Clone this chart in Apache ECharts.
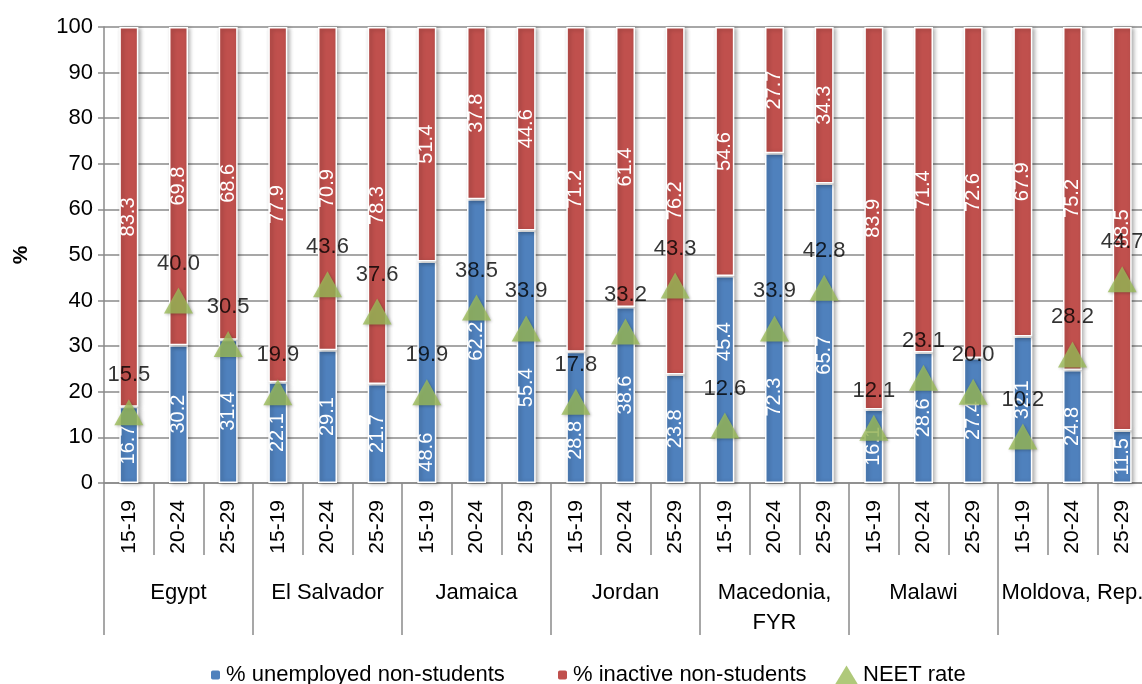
<!DOCTYPE html>
<html>
<head>
<meta charset="utf-8">
<script src="https://cdn.jsdelivr.net/npm/echarts@6/dist/echarts.min.js"></script>
<style>
  html, body { margin: 0; padding: 0; background: #fff; }
  #chart { width: 1142px; height: 684px; }
</style>
</head>
<body>
<div id="chart"></div>
<script>
// Youth NEET breakdown by country and age group
const countries = ['Egypt', 'El Salvador', 'Jamaica', 'Jordan', 'Macedonia,\nFYR', 'Malawi', 'Moldova, Rep.'];
const ageGroups = ['15-19', '20-24', '25-29'];
const unemployed = [16.7, 30.2, 31.4, 22.1, 29.1, 21.7, 48.6, 62.2, 55.4, 28.8, 38.6, 23.8, 45.4, 72.3, 65.7, 16.1, 28.6, 27.4, 32.1, 24.8, 11.5];
const inactive = [83.3, 69.8, 68.6, 77.9, 70.9, 78.3, 51.4, 37.8, 44.6, 71.2, 61.4, 76.2, 54.6, 27.7, 34.3, 83.9, 71.4, 72.6, 67.9, 75.2, 88.5];
const neetRate = [15.5, 40.0, 30.5, 19.9, 43.6, 37.6, 19.9, 38.5, 33.9, 17.8, 33.2, 43.3, 12.6, 33.9, 42.8, 12.1, 23.1, 20.0, 10.2, 28.2, 44.7];
const yTicks = [0, 10, 20, 30, 40, 50, 60, 70, 80, 90, 100];

// downward nudges (px) for some unemployed-bar labels so they clear the triangles
const unemployedLabelShift = { 6: 80, 8: 31, 9: 23, 12: -38, 13: 79, 14: 22, 18: -10 };

const ageLabels = [];
countries.forEach(() => ageGroups.forEach(a => ageLabels.push(a)));

const FONT = "'Liberation Sans', Arial, sans-serif";
const GRAY = '#8a8a8a';
const BLUE = '#4f81bd', RED = '#c0504d', GREEN = '#9bbb59';

const barLabel = {
  show: true, position: 'inside', rotate: 90, color: '#fff',
  fontFamily: FONT, fontSize: 20,
  formatter: p => p.value.toFixed(1)
};
const barStyle = color => ({
  color: color, borderColor: '#fff', borderWidth: 1.5,
  shadowBlur: 4, shadowColor: 'rgba(0,0,0,0.3)', shadowOffsetX: 2, shadowOffsetY: 1
});
const legendText = { fontFamily: FONT, fontSize: 22, color: '#000' };

// label offset is in the rotated frame: its x runs upward on screen
const unemployedData = unemployed.map((v, i) =>
  unemployedLabelShift[i] !== undefined
    ? { value: v, label: { offset: [-unemployedLabelShift[i], 0] } }
    : v
);

const chart = echarts.init(document.getElementById('chart'), null, { renderer: 'canvas' });
chart.setOption({
  animation: false,
  backgroundColor: '#fff',
  textStyle: { fontFamily: FONT },
  grid: { left: 104, top: 27, width: 1043, height: 456, containLabel: false, outerBoundsMode: 'none' },
  legend: [
    { data: ['% unemployed non-students'], left: 204, top: 659, itemWidth: 11, itemHeight: 11, itemGap: 8,
      textStyle: legendText },
    { data: ['% inactive non-students'], left: 551, top: 659, itemWidth: 11, itemHeight: 11, itemGap: 8,
      textStyle: legendText },
    { data: [{ name: 'NEET rate', icon: 'triangle' }], left: 830, top: 659, itemWidth: 23, itemHeight: 19, itemGap: 8,
      textStyle: legendText }
  ],
  xAxis: [
    {
      type: 'category', data: ageLabels, position: 'bottom', offset: 0,
      axisLine: { show: true, lineStyle: { color: GRAY, width: 1.5 } },
      axisTick: { show: true, interval: 0, length: 72, lineStyle: { color: GRAY, width: 1.5 } },
      axisLabel: { interval: 0, rotate: 90, margin: 17, color: '#000', fontFamily: FONT, fontSize: 21 },
      splitLine: { show: false }
    },
    {
      type: 'category', data: countries, position: 'bottom', offset: 0,
      axisLine: { show: false },
      axisTick: { show: true, interval: 0, length: 152, lineStyle: { color: GRAY, width: 1.5 } },
      axisLabel: { interval: 0, margin: 95, color: '#000', fontFamily: FONT, fontSize: 22, lineHeight: 30 },
      splitLine: { show: false }
    }
  ],
  yAxis: {
    type: 'value', min: yTicks[0], max: yTicks[yTicks.length - 1], interval: 10,
    name: '%', nameLocation: 'middle', nameGap: 72, nameRotate: 90,
    nameTextStyle: { fontFamily: FONT, fontSize: 21, fontWeight: 'bold', color: '#000' },
    axisLine: { show: true, lineStyle: { color: GRAY, width: 1.5 } },
    axisTick: { show: true, length: 6, lineStyle: { color: GRAY, width: 1.5 } },
    axisLabel: { margin: 11, color: '#000', fontFamily: FONT, fontSize: 22 },
    splitLine: { show: true, lineStyle: { color: GRAY, width: 1.5 } }
  },
  series: [
    {
      name: '% unemployed non-students', type: 'bar', stack: 'neet', xAxisIndex: 0,
      barWidth: 19, data: unemployedData, itemStyle: barStyle(BLUE), label: barLabel
    },
    {
      name: '% inactive non-students', type: 'bar', stack: 'neet', xAxisIndex: 0,
      barWidth: 19, data: inactive, itemStyle: barStyle(RED), label: barLabel
    },
    {
      name: 'NEET rate', type: 'scatter', xAxisIndex: 0, data: neetRate,
      symbol: 'triangle', symbolSize: [29, 26], z: 5,
      itemStyle: { color: GREEN, shadowBlur: 3, shadowColor: 'rgba(0,0,0,0.3)', shadowOffsetX: 1, shadowOffsetY: 1 },
      label: {
        show: true, position: 'top', distance: 13, color: '#000',
        fontFamily: FONT, fontSize: 22,
        formatter: p => p.value.toFixed(1)
      }
    }
  ]
});
</script>
</body>
</html>
